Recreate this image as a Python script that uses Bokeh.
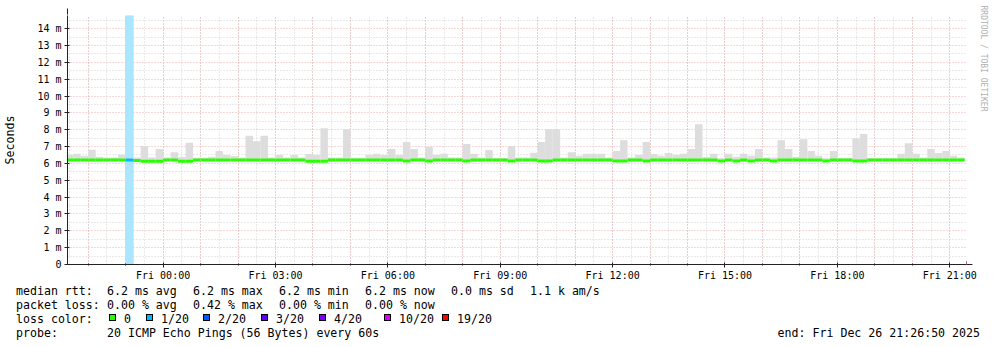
import pandas as pd
from bokeh.plotting import figure
from bokeh.layouts import column
from bokeh.models import (Range1d, FixedTicker, Grid, Arrow, Title, Div,
                          NormalHead, ColumnDataSource)
from bokeh.embed import file_html
from bokeh.resources import INLINE

# ---------------- data ----------------
RANGE_START = "2025-12-25 21:26:50"
RANGE_END = "2025-12-26 21:26:50"
FIRST_BIN = "2025-12-25 21:24:00"
BIN_MINUTES = 12

# top of smoke (ms) per 12-minute bin
smoke_top = [
    6.52,
    6.58, 6.46, 6.81, 6.40, 6.35, 6.35, 6.52, 6.30, 6.35, 7.04,
    6.35, 6.86, 6.35, 6.67, 6.38, 7.22, 6.33, 6.33, 6.40, 6.73,
    6.50, 6.44, 6.35, 7.64, 7.32, 7.64, 6.35, 6.50, 6.35, 6.50,
    6.35, 6.56, 6.50, 8.09, 6.35, 6.35, 8.03, 6.33, 6.33, 6.50,
    6.58, 6.50, 6.85, 6.50, 7.27, 6.85, 6.35, 6.99, 6.50, 6.58,
    6.35, 6.35, 7.15, 6.58, 6.35, 6.79, 6.30, 6.30, 7.03, 6.35,
    6.35, 6.63, 7.27, 8.03, 8.03, 6.35, 6.67, 6.45, 6.58, 6.58,
    6.58, 6.35, 6.73, 7.38, 6.35, 6.50, 7.27, 6.56, 6.45, 6.62,
    6.50, 6.58, 6.85, 8.33, 6.38, 6.57, 6.30, 6.57, 6.40, 6.57,
    6.45, 6.86, 6.35, 6.35, 7.38, 6.85, 6.40, 7.44, 6.73, 6.45,
    6.30, 6.73, 6.30, 6.30, 7.50, 7.74, 6.30, 6.30, 6.30, 6.30,
    6.58, 7.20, 6.58, 6.35, 6.85, 6.62, 6.73, 6.45, 6.35,
]
# median rtt (ms) per bin
median = [
    6.20,
    6.20, 6.20, 6.20, 6.20, 6.20, 6.20, 6.20, 6.20, 6.18, 6.13,
    6.13, 6.13, 6.20, 6.20, 6.13, 6.13, 6.20, 6.20, 6.20, 6.20,
    6.20, 6.20, 6.20, 6.20, 6.20, 6.20, 6.20, 6.20, 6.20, 6.20,
    6.20, 6.13, 6.13, 6.13, 6.20, 6.20, 6.20, 6.20, 6.20, 6.20,
    6.20, 6.20, 6.20, 6.20, 6.15, 6.20, 6.20, 6.15, 6.20, 6.20,
    6.20, 6.20, 6.15, 6.20, 6.20, 6.20, 6.20, 6.20, 6.15, 6.20,
    6.20, 6.20, 6.15, 6.15, 6.20, 6.20, 6.20, 6.20, 6.20, 6.20,
    6.20, 6.20, 6.15, 6.15, 6.20, 6.20, 6.15, 6.20, 6.20, 6.20,
    6.20, 6.20, 6.20, 6.20, 6.20, 6.20, 6.15, 6.20, 6.15, 6.20,
    6.15, 6.20, 6.20, 6.15, 6.20, 6.20, 6.20, 6.20, 6.20, 6.20,
    6.15, 6.20, 6.20, 6.20, 6.15, 6.15, 6.20, 6.20, 6.20, 6.20,
    6.20, 6.20, 6.20, 6.20, 6.20, 6.20, 6.20, 6.20, 6.20,
]
# lost pings (of 20) per bin
loss = [0] * 120
loss[8] = 1

loss_thresholds = [0, 1, 2, 3, 4, 10, 19]
loss_labels = ["0", "1/20", "2/20", "3/20", "4/20", "10/20", "19/20"]
loss_colors = ["#26ff00", "#00b8ff", "#0059ff", "#5e00ff", "#7e00ff", "#dd00ff", "#ff0000"]
loss_bg_colors = ["#ffffff", "#aae6ff", "#aac8ff", "#c8aaff", "#d2aaff", "#f0aaff", "#ffaaaa"]

y_ticks = list(range(0, 15))
y_tick_labels = ["0"] + [f"{i} m" for i in range(1, 15)]
x_tick_times = ["2025-12-26 00:00", "2025-12-26 03:00", "2025-12-26 06:00", "2025-12-26 09:00",
                "2025-12-26 12:00", "2025-12-26 15:00", "2025-12-26 18:00", "2025-12-26 21:00"]
x_tick_labels = ["Fri 00:00", "Fri 03:00", "Fri 06:00", "Fri 09:00",
                 "Fri 12:00", "Fri 15:00", "Fri 18:00", "Fri 21:00"]

legend_rtt = [("median rtt:", 16), ("6.2 ms avg", 107), ("6.2 ms max", 193), ("6.2 ms min", 279),
              ("6.2 ms now", 365), ("0.0 ms sd", 451), ("1.1 k am/s", 530)]
legend_loss = [("packet loss:", 16), ("0.00 % avg", 107), ("0.42 % max", 193),
               ("0.00 % min", 279), ("0.00 % now", 365)]
probe_text = "20 ICMP Echo Pings (56 Bytes) every 60s"
end_text = "end: Fri Dec 26 21:26:50 2025"
Y_MAX = 14.78

# ---------------- helpers ----------------
EPOCH = pd.Timestamp("1970-01-01")


def ms(t):
    return (pd.Timestamp(t) - EPOCH) / pd.Timedelta(milliseconds=1)


n = len(smoke_top)
starts = pd.date_range(FIRST_BIN, periods=n, freq=f"{BIN_MINUTES}min")
left = [ms(t) for t in starts]
right = [ms(t + pd.Timedelta(minutes=BIN_MINUTES)) for t in starts]


def level(v):
    k = 0
    for i, th in enumerate(loss_thresholds):
        if v >= th:
            k = i
    return k


med_color = [loss_colors[level(v)] for v in loss]
src = ColumnDataSource(dict(left=left, right=right, top=smoke_top, median=median,
                            mcolor=med_color))
bg_idx = [i for i, v in enumerate(loss) if v > 0]
bg_src = ColumnDataSource(dict(left=[left[i] for i in bg_idx], right=[right[i] for i in bg_idx],
                               top=[Y_MAX] * len(bg_idx), bottom=[0] * len(bg_idx),
                               color=[loss_bg_colors[level(loss[i])] for i in bg_idx]))

W, H = 997, 347
H1 = 283
FL, FR, FT, FB = 66, 30, 15, H1 - 265
x0, x1 = ms(RANGE_START), ms(RANGE_END)
FONT = "DejaVu Sans Mono"
MAJ = "#eeb0b0"
MIN = "#d2d2d2"
AX = "#222222"
RED = "#a00000"

p = figure(width=W, height=H1, x_range=Range1d(x0, x1), y_range=Range1d(0, Y_MAX),
           output_backend="svg", toolbar_location=None, title=None,
           min_border_left=FL, min_border_right=FR, min_border_top=FT, min_border_bottom=FB)
p.background_fill_color = "white"
p.border_fill_color = "white"
p.outline_line_color = None
p.xgrid.visible = False
p.ygrid.visible = False

hours = [ms(t) for t in pd.date_range("2025-12-25 22:00", "2025-12-26 21:00", freq="1h")]
halfs = [ms(t) for t in pd.date_range("2025-12-25 21:30", "2025-12-26 21:00", freq="30min")]
p.add_layout(Grid(dimension=0, ticker=FixedTicker(ticks=hours, minor_ticks=halfs),
                  grid_line_color=MAJ, grid_line_dash="1 2",
                  minor_grid_line_color=MIN, minor_grid_line_dash="1 2"))
p.add_layout(Grid(dimension=1, ticker=FixedTicker(ticks=y_ticks[1:],
                                                  minor_ticks=[i + 0.5 for i in range(15)]),
                  grid_line_color=MAJ, grid_line_dash="1 2",
                  minor_grid_line_color=MIN, minor_grid_line_dash="1 2"))

p.quad(left="left", right="right", top="top", bottom="bottom", color="color", source=bg_src)
p.quad(left="left", right="right", top="top", bottom="median", fill_color="#dddddd",
       line_color=None, source=src)
p.segment(x0="left", x1="right", y0="median", y1="median", line_color="mcolor",
          line_width=3, line_cap="butt", source=src)

xt = [ms(t) for t in x_tick_times]
p.xaxis.ticker = FixedTicker(ticks=xt, minor_ticks=hours)
p.xaxis.major_label_overrides = {t: l for t, l in zip(xt, x_tick_labels)}
p.yaxis.ticker = FixedTicker(ticks=y_ticks, minor_ticks=[])
p.yaxis.major_label_overrides = {t: l for t, l in zip(y_ticks, y_tick_labels)}
for ax in (p.xaxis, p.yaxis):
    ax.axis_line_color = AX
    ax.major_tick_line_color = AX
    ax.minor_tick_line_color = AX
    ax.major_label_text_font = FONT
    ax.major_label_text_font_size = "10px"
    ax.major_label_text_color = "black"
    ax.major_tick_in = 2
    ax.major_tick_out = 3
    ax.minor_tick_in = 1
    ax.minor_tick_out = 1
p.xaxis.major_label_standoff = 2
p.yaxis.major_label_standoff = 3
p.yaxis.axis_label = "Seconds"
p.yaxis.axis_label_text_font = FONT
p.yaxis.axis_label_text_font_size = "11.6px"
p.yaxis.axis_label_text_font_style = "normal"
p.yaxis.axis_label_text_color = "black"
p.yaxis.axis_label_standoff = 17

p.add_layout(Title(text="RRDTOOL / TOBI OETIKER", text_font=FONT, text_font_size="8px",
                   text_font_style="normal", text_color="#b0b0b0", align="left",
                   vertical_align="top", standoff=20, offset=-10), "right")

px_x = (x1 - x0) / (W - FL - FR)
px_y = Y_MAX / (H1 - FT - FB)
p.add_layout(Arrow(x_start=x1, y_start=0, x_end=x1 + 6 * px_x, y_end=0, line_color=AX,
                   end=NormalHead(size=6, fill_color=RED, line_color=RED)))
p.add_layout(Arrow(x_start=x0, y_start=Y_MAX, x_end=x0, y_end=Y_MAX + 7 * px_y,
                   line_color=AX, end=NormalHead(size=6, fill_color=RED, line_color=RED)))

# ---------------- legend strip below the graph (page pixel positions) ----------------
ROW_TOP = [1, 15, 29, 43]   # row tops inside the strip
spans = []


def span(x, top, s, extra=""):
    spans.append(f'<span style="position:absolute;left:{x}px;top:{top}px;{extra}">{s}</span>')


for s, x in legend_rtt:
    span(x, ROW_TOP[0], s)
for s, x in legend_loss:
    span(x, ROW_TOP[1], s)
span(16, ROW_TOP[2], "loss color:")
box_x = [109, 146, 203, 261, 319, 384, 442]
for bx, c, lab in zip(box_x, loss_colors, loss_labels):
    spans.append(f'<span style="position:absolute;left:{bx}px;top:{ROW_TOP[2] + 2}px;'
                 f'width:7px;height:7px;border:1px solid #000;background:{c};"></span>')
    span(bx + 15, ROW_TOP[2], lab)
span(16, ROW_TOP[3], "probe:")
span(107, ROW_TOP[3], probe_text)
spans.append(f'<span style="position:absolute;right:{W - 980}px;top:{ROW_TOP[3]}px;">'
             f'{end_text}</span>')

html = (f'<div style="position:relative;width:{W}px;height:{H - H1}px;'
        f"font-family:'DejaVu Sans Mono',monospace;font-size:11.6px;line-height:14px;"
        f'color:#000;white-space:pre;background:#fff;">' + "".join(spans) + "</div>")
legend_div = Div(text=html, width=W, height=H - H1, margin=0)

layout = column(p, legend_div, spacing=0)
open("out.html", "w").write(file_html(layout, INLINE))
